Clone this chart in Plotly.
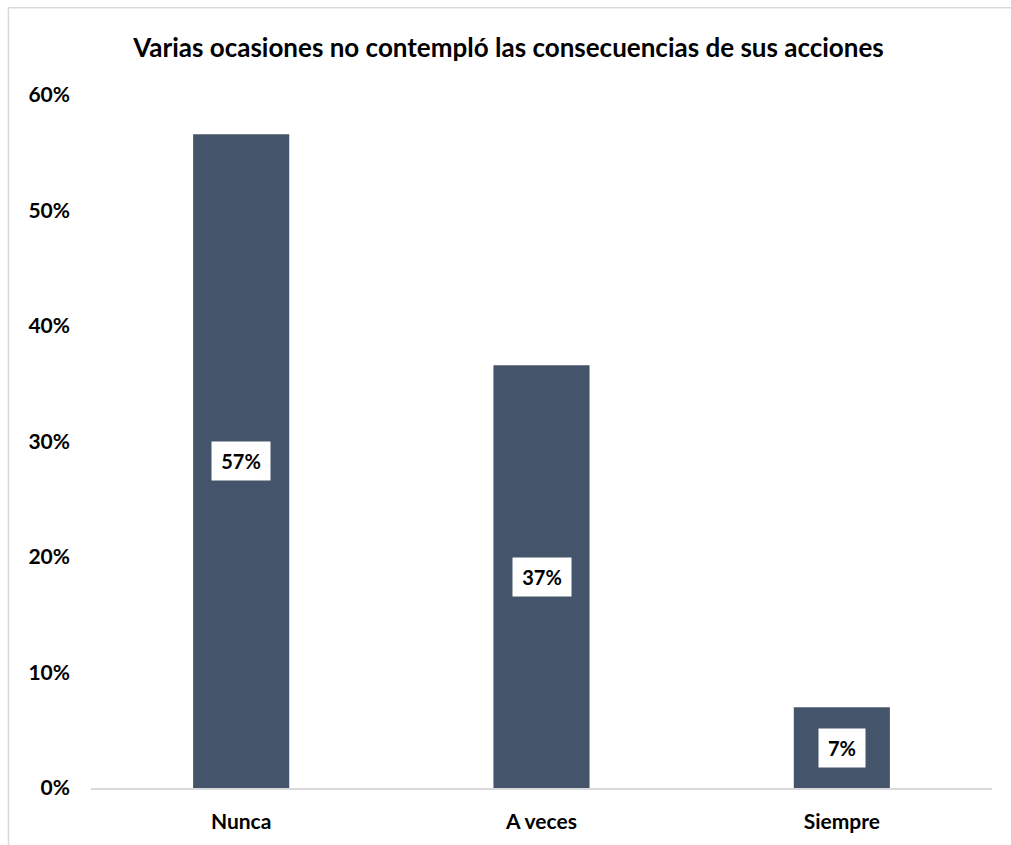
import plotly.graph_objects as go

# Survey answers and their shares
categories = ["Nunca", "A veces", "Siempre"]
shares = [0.566, 0.366, 0.070]
y_ticks = [0.0, 0.1, 0.2, 0.3, 0.4, 0.5, 0.6]
title_text = "Varias ocasiones no contempló las consecuencias de sus acciones"

FONT = "Lato"
BAR_COLOR = "#44546A"
LINE_COLOR = "#D9D9D9"

W, H = 1011, 845
ML, MR, MT, MB = 91, 19, 95, 55

fig = go.Figure(
    go.Bar(
        x=categories,
        y=shares,
        marker=dict(color=BAR_COLOR, line=dict(width=0)),
        hoverinfo="skip",
    )
)

# value labels in white boxes at the middle of each bar
for cat, val in zip(categories, shares):
    label = f"{val:.0%}"
    fig.add_annotation(
        x=cat, y=val / 2, xref="x", yref="y",
        text=f"<b>{label}</b>",
        showarrow=False,
        font=dict(family=FONT, size=20, color="#000000"),
        bgcolor="#FFFFFF",
        width=20 + 12 * len(label),
        height=36,
        borderpad=1,
        xanchor="center", yanchor="middle",
    )

# thin frame around the chart area (runs off the right and bottom edges)
pw = W - ML - MR
ph = H - MT - MB
fig.add_shape(
    type="rect", xref="paper", yref="paper",
    x0=(8.5 - ML) / pw, x1=(W + 10 - ML) / pw,
    y0=(H - MB - (H + 10)) / ph, y1=(H - MB - 7.5) / ph,
    line=dict(color=LINE_COLOR, width=1.5),
    fillcolor="rgba(0,0,0,0)",
    layer="below",
)

fig.update_layout(
    width=W, height=H,
    margin=dict(l=ML, r=MR, t=MT, b=MB),
    paper_bgcolor="#FFFFFF",
    plot_bgcolor="#FFFFFF",
    showlegend=False,
    bargap=0.68,
    title=dict(
        text=f"<b>{title_text}</b>",
        x=508.5 / W, xref="container", xanchor="center",
        y=(H - 48) / H, yref="container", yanchor="middle",
        font=dict(family=FONT, size=26, color="#000000"),
    ),
    xaxis=dict(
        showline=True, linecolor=LINE_COLOR, linewidth=1.5,
        showgrid=False, zeroline=False, ticks="",
        tickfont=dict(family=FONT, size=21, color="#000000"),
        ticklabelstandoff=14,
    ),
    yaxis=dict(
        range=[0, 0.6],
        tickvals=y_ticks,
        tickformat=".0%",
        showgrid=False, zeroline=False, showline=False, ticks="",
        tickfont=dict(family=FONT, size=21, color="#000000"),
        ticklabelstandoff=20,
    ),
)

# bold tick labels
fig.update_xaxes(ticktext=[f"<b>{c}</b>" for c in categories], tickvals=categories)
fig.update_yaxes(ticktext=[f"<b>{t:.0%}</b>" for t in y_ticks])

fig.write_html("out.html")
